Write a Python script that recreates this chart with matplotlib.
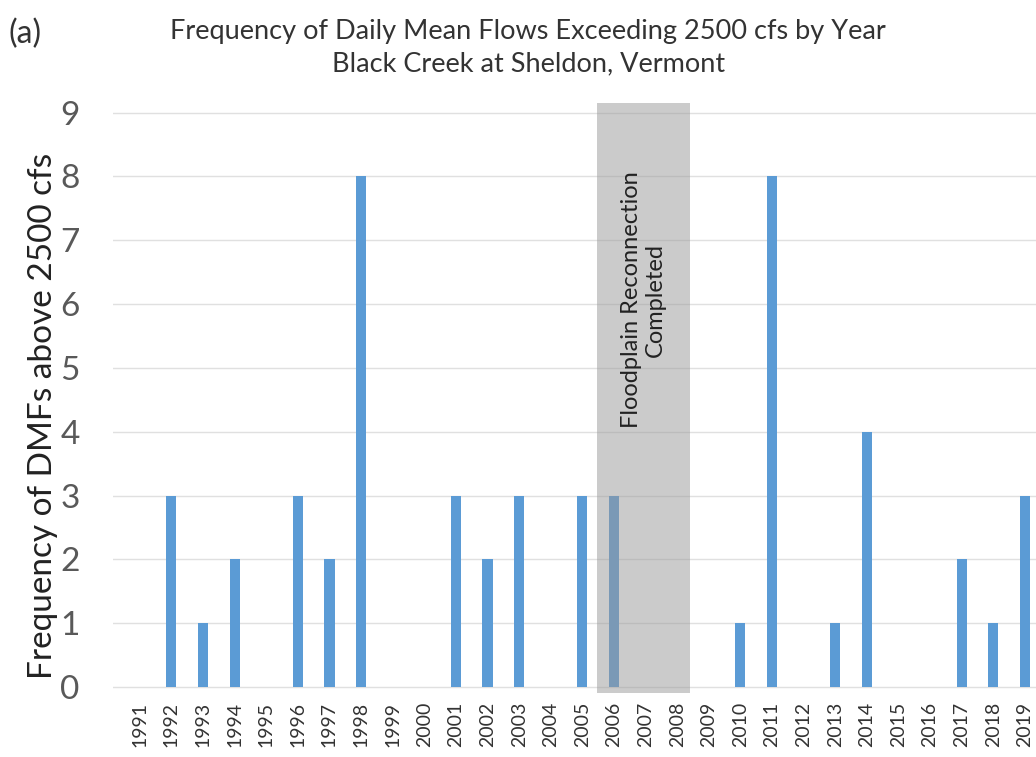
import numpy as np
import matplotlib
matplotlib.use("Agg")
from matplotlib import pyplot as plt

years = list(range(1991, 2020))
counts = [0, 3, 1, 2, 0, 3, 2, 8, 0, 0, 3, 2, 3, 0, 3, 3, 0, 0, 0, 1, 8, 0, 1, 4, 0, 0, 2, 1, 3]

span_start = 2005.45
span_end = 2008.4

plt.rcParams['font.family'] = ['Lato', 'DejaVu Sans']

fig = plt.figure(figsize=(10.36, 7.57), dpi=100)
ax = fig.add_axes([0.109, 0.084, 0.891, 0.780])

ax.bar(years, counts, width=0.32, color='#5B9BD5', zorder=3)
ax.axvspan(span_start, span_end, ymin=0, ymax=1, color='#999999', alpha=0.5, lw=0, zorder=4)
ax.text((span_start + span_end) / 2, 6.07, "Floodplain Reconnection\nCompleted",
        rotation=90, ha='center', va='center', fontsize=17, color='#222222', zorder=5)

ax.set_xlim(1990.15, 2019.35)
ax.set_ylim(-0.1, 9.15)
ax.set_yticks(range(0, 10))
ax.set_xticks(years)
ax.set_xticklabels([str(y) for y in years], rotation=90, fontsize=14, color='#333333')
ax.tick_params(axis='y', labelsize=24, labelcolor='#595959', length=0, pad=24)
ax.tick_params(axis='x', length=0, pad=6)
ax.grid(axis='y', color='#E0E0E0', lw=1, zorder=0)
for s in ax.spines.values():
    s.set_visible(False)

ax.set_ylabel("Frequency of DMFs above 2500 cfs", fontsize=24, color='#222222')
ax.yaxis.set_label_coords(-0.06, 0.47)

fig.text(0.51, 0.975, "Frequency of Daily Mean Flows Exceeding 2500 cfs by Year\nBlack Creek at Sheldon, Vermont",
         ha='center', va='top', fontsize=19.5, color='#333333', linespacing=1.35)
fig.text(0.008, 0.975, "(a)", ha='left', va='top', fontsize=23, color='#333333')

fig.savefig("out.png", dpi=100)
